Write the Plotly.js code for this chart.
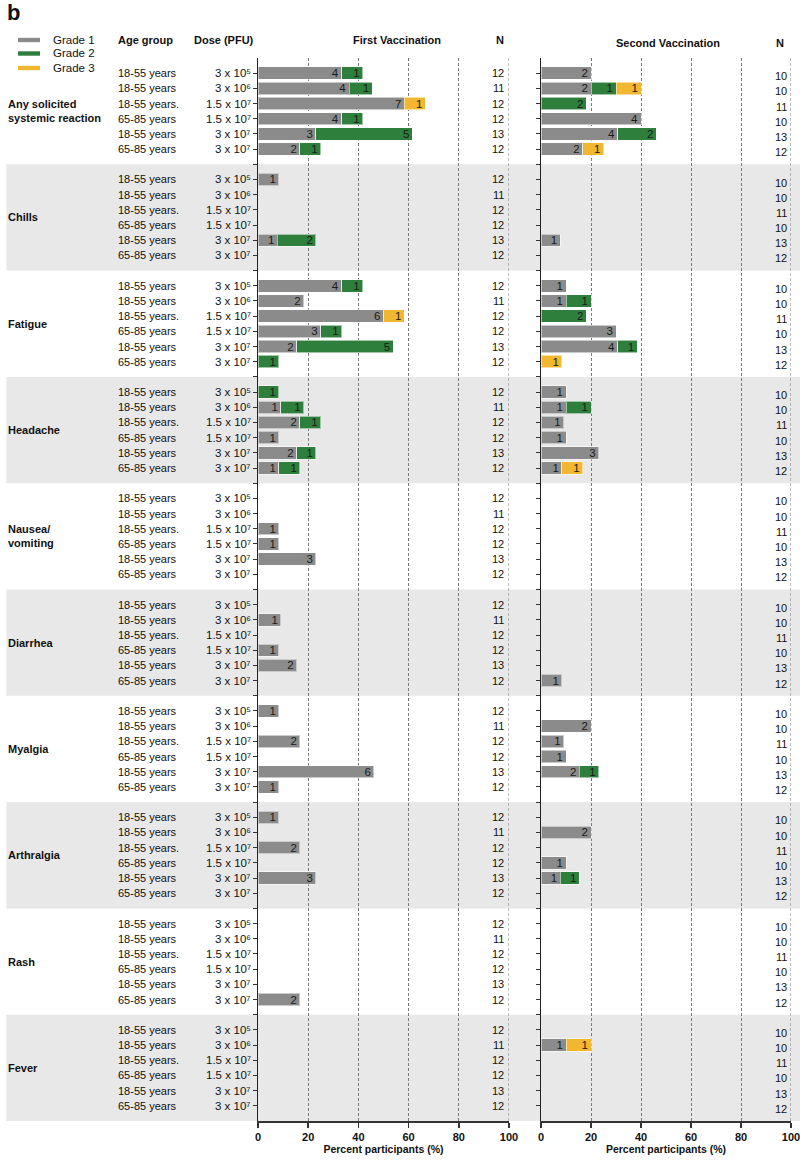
<!DOCTYPE html>
<html>
<head>
<meta charset="utf-8">
<script src="https://cdn.plot.ly/plotly-3.0.1.min.js"></script>
<style>html,body{margin:0;padding:0;background:#fff;}#chart{width:800px;height:1161px;}</style>
</head>
<body>
<div id="chart"></div>
<script>
// ---------- DATA ----------
const categories = ["Any solicited<br>systemic reaction","Chills","Fatigue","Headache","Nausea/<br>vomiting","Diarrhea","Myalgia","Arthralgia","Rash","Fever"];
const ageGroups = ["18-55 years","18-55 years","18-55 years.","65-85 years","18-55 years","65-85 years"];
const doses = ["3 x 10\u2075","3 x 10\u2076","1.5 x 10\u2077","1.5 x 10\u2077","3 x 10\u2077","3 x 10\u2077"];
const nFirst = [12,11,12,12,13,12];
const nSecond = [10,10,11,10,13,12];
const gradeNames = ["Grade 1","Grade 2","Grade 3"];
const xTicks = [0,20,40,60,80,100];

// counts of participants per category (rows) and dose group (columns)
const firstGrade1 = [
  [4,4,7,4,3,2],[1,0,0,0,1,0],[4,2,6,3,2,0],[0,1,2,1,2,1],[0,0,1,1,3,0],
  [0,1,0,1,2,0],[1,0,2,0,6,1],[1,0,2,0,3,0],[0,0,0,0,0,2],[0,0,0,0,0,0]];
const firstGrade2 = [
  [1,1,0,1,5,1],[0,0,0,0,2,0],[1,0,0,1,5,1],[1,1,1,0,1,1],[0,0,0,0,0,0],
  [0,0,0,0,0,0],[0,0,0,0,0,0],[0,0,0,0,0,0],[0,0,0,0,0,0],[0,0,0,0,0,0]];
const firstGrade3 = [
  [0,0,1,0,0,0],[0,0,0,0,0,0],[0,0,1,0,0,0],[0,0,0,0,0,0],[0,0,0,0,0,0],
  [0,0,0,0,0,0],[0,0,0,0,0,0],[0,0,0,0,0,0],[0,0,0,0,0,0],[0,0,0,0,0,0]];
const secondGrade1 = [
  [2,2,0,4,4,2],[0,0,0,0,1,0],[1,1,0,3,4,0],[1,1,1,1,3,1],[0,0,0,0,0,0],
  [0,0,0,0,0,1],[0,2,1,1,2,0],[0,2,0,1,1,0],[0,0,0,0,0,0],[0,1,0,0,0,0]];
const secondGrade2 = [
  [0,1,2,0,2,0],[0,0,0,0,0,0],[0,1,2,0,1,0],[0,1,0,0,0,0],[0,0,0,0,0,0],
  [0,0,0,0,0,0],[0,0,0,0,1,0],[0,0,0,0,1,0],[0,0,0,0,0,0],[0,0,0,0,0,0]];
const secondGrade3 = [
  [0,1,0,0,0,1],[0,0,0,0,0,0],[0,0,0,0,0,1],[0,0,0,0,0,1],[0,0,0,0,0,0],
  [0,0,0,0,0,0],[0,0,0,0,0,0],[0,0,0,0,0,0],[0,0,0,0,0,0],[0,1,0,0,0,0]];

// ---------- STYLE ----------
const colors = ["#8b8b8b","#2f7f3c","#f1b731"];
const FONT = "Liberation Sans, Arial, sans-serif";
const SLOT = 7; // 6 rows + spacing per category block
const TOP = 58, BOTTOM = 1121;
function py(px){ return (BOTTOM - px) / (BOTTOM - TOP); }
function fnt(size, bold){ return {family:FONT, size:size, color:"#111111", weight: bold ? "bold" : "normal"}; }

function rowPos(b, r){ return SLOT*b + r + 1; }

function buildTrace(counts, nArr, g, xa, ya){
  const x = [], y = [], text = [];
  counts.forEach((row, b)=>{ row.forEach((v,r)=>{
    if(v > 0){ x.push(v/nArr[r]*100); y.push(rowPos(b,r)); text.push(String(v)); }
  }); });
  return {
    type:"bar", orientation:"h", x:x, y:y, xaxis:xa, yaxis:ya,
    name: gradeNames[g], text:text, textposition:"inside", insidetextanchor:"end",
    textangle:0, constraintext:"none",
    insidetextfont:{family:FONT, size:11.5, color:"#1a1a1a"},
    marker:{color:colors[g], line:{color:"rgba(255,255,255,0.55)", width:1}},
    width:0.82, hoverinfo:"none", showlegend:false, cliponaxis:false
  };
}

const traces = [
  buildTrace(firstGrade1, nFirst, 0, "x", "y"),
  buildTrace(firstGrade2, nFirst, 1, "x", "y"),
  buildTrace(firstGrade3, nFirst, 2, "x", "y"),
  buildTrace(secondGrade1, nSecond, 0, "x2", "y2"),
  buildTrace(secondGrade2, nSecond, 1, "x2", "y2"),
  buildTrace(secondGrade3, nSecond, 2, "x2", "y2")
];

const shapes = [];
const annotations = [];
// background bands
categories.forEach((c,b)=>{
  if(b % 2 === 1){
    shapes.push({type:"rect", xref:"paper", yref:"y", x0:0.008, x1:1, y0:SLOT*b, y1:SLOT*b+SLOT,
      fillcolor:"#e8e8e8", line:{width:0}, layer:"below"});
  }
});
// dashed line at 100 in each panel (edge grid line)
["x","x2"].forEach((xa)=>{
  shapes.push({type:"line", xref:xa, yref:"paper", x0:100, x1:100, y0:0, y1:1,
    line:{color:"#7a7a7a", width:1, dash:"3px,2px"}, layer:"above"});
});
// row labels
categories.forEach((c,b)=>{
  annotations.push({xref:"paper", yref:"y", x:0.0075, y:SLOT*b+3.5, xanchor:"left", yanchor:"middle",
    text:c, showarrow:false, align:"left", font:fnt(11, true)});
  for(let r=0;r<6;r++){
    const yy = rowPos(b, r);
    annotations.push({xref:"paper", yref:"y", x:116/800, y:yy, xanchor:"left", yanchor:"middle",
      text:ageGroups[r], showarrow:false, font:fnt(11,false)});
    annotations.push({xref:"paper", yref:"y", x:253/800, y:yy, xanchor:"right", yanchor:"middle",
      text:doses[r], showarrow:false, font:fnt(11.5,false)});
    annotations.push({xref:"paper", yref:"y", x:505.5/800, y:yy, xanchor:"right", yanchor:"middle",
      text:String(nFirst[r]), showarrow:false, font:fnt(11,false)});
    annotations.push({xref:"paper", yref:"y", x:788.5/800, y:yy+0.2, xanchor:"right", yanchor:"middle",
      text:String(nSecond[r]), showarrow:false, font:fnt(11,false)});
  }
});
// headers
annotations.push({xref:"paper", yref:"paper", x:116/800, y:py(40), xanchor:"left", yanchor:"middle", text:"Age group", showarrow:false, font:fnt(11,true)});
annotations.push({xref:"paper", yref:"paper", x:256/800, y:py(40), xanchor:"right", yanchor:"middle", text:"Dose (PFU)", showarrow:false, font:fnt(11,true)});
annotations.push({xref:"paper", yref:"paper", x:397/800, y:py(40), xanchor:"center", yanchor:"middle", text:"First Vaccination", showarrow:false, font:fnt(11,true)});
annotations.push({xref:"paper", yref:"paper", x:500/800, y:py(40), xanchor:"center", yanchor:"middle", text:"N", showarrow:false, font:fnt(11,true)});
annotations.push({xref:"paper", yref:"paper", x:668/800, y:py(43), xanchor:"center", yanchor:"middle", text:"Second Vaccination", showarrow:false, font:fnt(11,true)});
annotations.push({xref:"paper", yref:"paper", x:780/800, y:py(43), xanchor:"center", yanchor:"middle", text:"N", showarrow:false, font:fnt(11,true)});
annotations.push({xref:"paper", yref:"paper", x:5/800, y:py(12), xanchor:"left", yanchor:"middle", text:"b", showarrow:false, font:fnt(22,true)});
// legend
const legY = [40, 53.5, 68];
gradeNames.forEach((g,i)=>{
  shapes.push({type:"rect", xref:"paper", yref:"paper", x0:18/800, x1:40/800, y0:py(legY[i]+2.2), y1:py(legY[i]-2.2),
    fillcolor:colors[i], line:{width:0}});
  annotations.push({xref:"paper", yref:"paper", x:51/800, y:py(legY[i]), xanchor:"left", yanchor:"middle",
    text:g, showarrow:false, font:fnt(11.5,false)});
});

const xCommon = {
  range:[0,100], tickvals:xTicks, ticktext:xTicks.map(String), ticks:"outside", ticklen:5, tickwidth:1.5, tickcolor:"#333",
  showline:true, linecolor:"#333", linewidth:1.5, showgrid:true, gridcolor:"#7a7a7a", griddash:"3px,2px", gridwidth:1,
  zeroline:false, tickfont:{family:FONT, size:11, color:"#111", weight:"bold"}, ticklabeloverflow:"allow",
  title:{text:"Percent participants (%)", font:{family:FONT, size:10.5, color:"#111", weight:"bold"}, standoff:4},
  fixedrange:true
};
const tickY = []; for(let i=1;i<70;i++) tickY.push(i);
const yCommon = {
  range:[70,0], tickvals:tickY, showticklabels:false, ticks:"outside", ticklen:4, tickwidth:1, tickcolor:"#333",
  showline:true, linecolor:"#222", linewidth:1.5, showgrid:false, zeroline:false, fixedrange:true
};

const layout = {
  width:800, height:1161, margin:{l:0, r:0, t:TOP, b:1161-BOTTOM, pad:0},
  paper_bgcolor:"#ffffff", plot_bgcolor:"rgba(0,0,0,0)",
  barmode:"stack", showlegend:false, hovermode:false,
  font:{family:FONT, size:11, color:"#111"},
  xaxis:Object.assign({}, xCommon, {domain:[258/800, 509/800], anchor:"y"}),
  xaxis2:Object.assign({}, xCommon, {domain:[541/800, 791/800], anchor:"y2"}),
  yaxis:Object.assign({}, yCommon, {anchor:"x"}),
  yaxis2:Object.assign({}, yCommon, {anchor:"x2"}),
  shapes:shapes, annotations:annotations
};

Plotly.newPlot("chart", traces, layout, {staticPlot:true, displayModeBar:false});
</script>
</body>
</html>
